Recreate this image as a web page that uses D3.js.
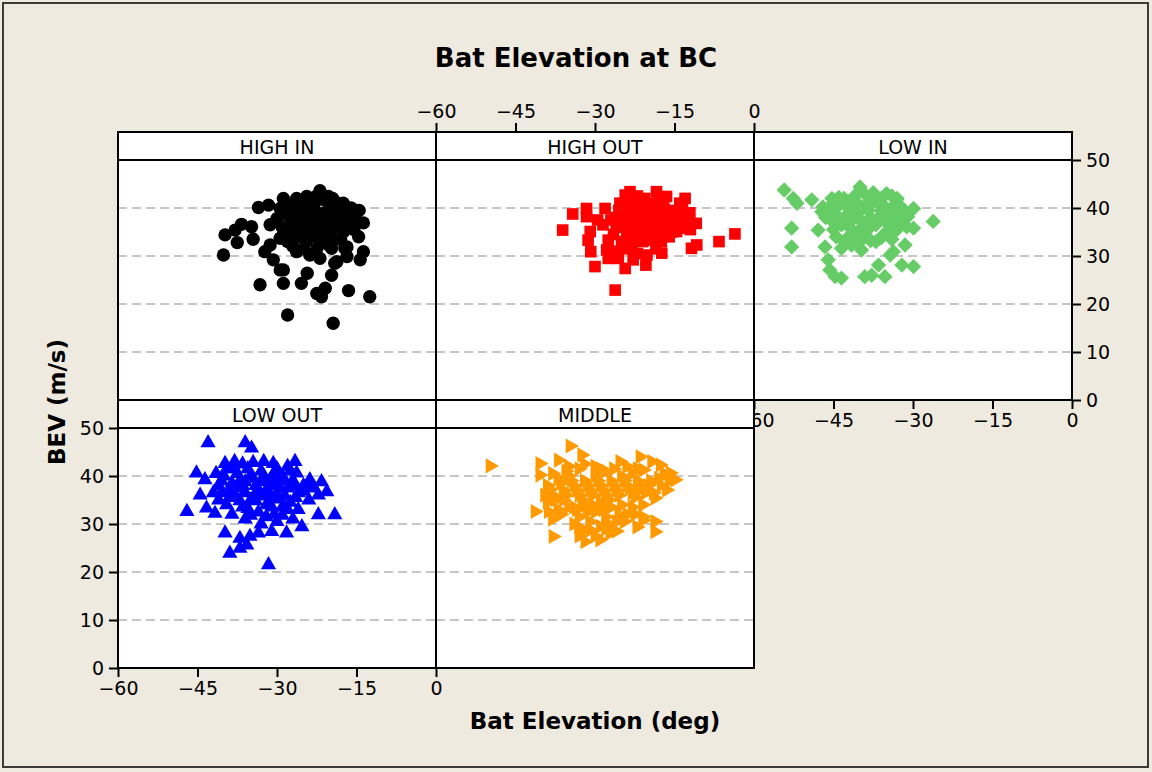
<!DOCTYPE html>
<html>
<head>
<meta charset="utf-8">
<script src="https://cdn.jsdelivr.net/npm/d3@7"></script>
<style>
  body { margin: 0; background: #eeeadf; }
  svg { display: block; }
  text { font-family: "DejaVu Sans", sans-serif; fill: #000; }
</style>
</head>
<body>
<div id="chart"></div>
<script>
"use strict";

const panels = ["HIGH IN", "HIGH OUT", "LOW IN", "LOW OUT", "MIDDLE"];
const xTicks = [-60, -45, -30, -15, 0];
const yTicks = [0, 10, 20, 30, 40, 50];
const gridValues = [10, 20, 30, 40];

// [Bat Elevation (deg), BEV (m/s)]
const highIn = [
  [-39.8, 34.4], [-40.1, 30.2], [-37.5, 32.8], [-36.7, 36.6], [-37.9, 35.4], [-34.8, 36.1],
  [-34.5, 33.5], [-33.5, 40.1], [-31.6, 40.6], [-31.3, 36.5], [-29.4, 39.9], [-28.8, 42.0],
  [-26.3, 42.0], [-24.4, 42.4], [-21.9, 43.6], [-20.3, 42.4], [-17.5, 41.0], [-15.3, 38.2],
  [-13.7, 36.9], [-14.6, 34.0], [-13.7, 30.9], [-14.3, 29.2], [-16.8, 29.9], [-16.8, 31.9],
  [-19.7, 31.6], [-19.1, 28.5], [-19.7, 26.0], [-20.9, 23.3], [-22.5, 22.2], [-21.6, 21.5],
  [-16.5, 22.8], [-12.5, 21.5], [-19.4, 16.0], [-28.0, 17.7], [-33.2, 24.0], [-28.8, 24.3],
  [-25.4, 24.3], [-24.3, 26.4], [-28.8, 27.1], [-29.4, 27.1], [-30.7, 29.2], [-32.3, 30.9],
  [-31.3, 32.3], [-29.4, 33.7], [-26.3, 30.9], [-23.8, 30.2], [-21.9, 29.5], [-18.7, 28.8],
  [-17.2, 31.6], [-28, 38.5], [-27, 37], [-26, 39.5], [-25, 36], [-24, 38], [-23, 40],
  [-22, 37], [-21, 39], [-20, 40.5], [-19, 38], [-18, 39.5], [-17, 37.5], [-16, 40],
  [-27.5, 35], [-26, 34], [-24.5, 33], [-23, 35], [-22, 33.5], [-21, 35.5], [-20, 34],
  [-19, 36], [-18, 33.5], [-29, 36], [-28.5, 34.5], [-25.5, 41], [-23.5, 41.5], [-21.5, 41.8],
  [-19.5, 42], [-18.5, 41], [-27, 32], [-25, 31.5], [-22.5, 31.5], [-20.5, 32.5], [-15.5, 35.5],
  [-16.5, 38.5], [-24, 36.8], [-22, 38.7], [-26.5, 38], [-28, 40.5], [-30, 37.8],
  [-27.5, 40], [-26.5, 36.5], [-25.5, 38.5], [-24.5, 40], [-23.5, 38.8], [-22.5, 36],
  [-21.5, 37.8], [-20.5, 36.8], [-19.5, 39.8], [-18, 37], [-17, 38.8], [-16, 36.8],
  [-25, 34.8], [-23.5, 34], [-21.5, 32.8], [-19.5, 33.5], [-17.5, 35], [-24, 39.5],
  [-20, 41.5], [-22.5, 42.5], [-26, 40.5], [-28, 33], [-15, 37.2], [-14.5, 39.5],
];

const highOut = [
  [-36.1, 35.4], [-34.2, 38.75], [-31.6, 39.9], [-31.6, 38.2], [-30.9, 35.1], [-31.3, 33.3],
  [-30.8, 30.9], [-30.0, 27.8], [-26.2, 22.9], [-27.5, 29.5], [-25.6, 29.5], [-24.3, 27.4],
  [-22.8, 29.2], [-20.4, 28.1], [-20.2, 30.2], [-17.4, 30.6], [-11.8, 31.6], [-10.8, 32.3],
  [-6.6, 33.0], [-3.6, 34.6], [-10.9, 36.8], [-12.1, 39.0], [-13.0, 42.0], [-14.0, 41.0],
  [-18.4, 43.4], [-23.4, 43.4], [-24.3, 42.7], [-28.1, 39.9], [-25.3, 41.0], [-20.6, 42.0],
  [-16.5, 42.4], [-27.5, 33.3], [-27.8, 31.25], [-19.0, 33.3], [-14.6, 35.1], [-13.0, 35.8],
  [-26, 38], [-25, 36], [-24, 39], [-23, 37.5], [-22, 40], [-21, 38], [-20, 36.5], [-19, 39.5],
  [-18, 37.5], [-17, 40], [-16, 38.5], [-15, 39.5], [-14, 37.5], [-26.5, 34.5], [-25, 33],
  [-24, 35], [-23, 32.5], [-22, 34.5], [-21, 33], [-20, 35], [-18, 34.5], [-17, 36], [-16, 34],
  [-15, 36.5], [-23.5, 41], [-21.5, 41.5], [-19.5, 41], [-17.5, 41.5], [-28.5, 36.5],
  [-29.5, 37.5], [-26, 31], [-24, 31.5], [-22, 30.5], [-18.5, 31.5], [-13, 38.5], [-12.5, 37],
  [-24.5, 37.8], [-20.5, 38.8], [-25.5, 39.5], [-24.5, 36.5], [-23, 39], [-22.5, 36],
  [-21.5, 39.5], [-20.5, 37], [-19.5, 38], [-18.5, 36], [-17.5, 38.8], [-16.5, 37],
  [-15.5, 35], [-14.5, 38.5], [-23.5, 34], [-21.5, 35.5], [-19.5, 34], [-17.5, 33],
  [-22, 42.5], [-20, 40.5], [-18, 42], [-26, 36.5], [-27, 37.5], [-25, 40.2], [-13.5, 40],
  [-12, 35.5],
];

const lowIn = [
  [-54.3, 43.75], [-52.6, 42.0], [-51.9, 41.0], [-49.1, 41.7], [-52.9, 35.8], [-52.9, 31.9],
  [-40.0, 44.4], [-47.9, 35.4], [-47.2, 39.2], [-45.3, 42.0], [-46.6, 31.9], [-46.0, 29.2],
  [-44.7, 25.7], [-43.5, 25.4], [-45.7, 27.1], [-43.5, 31.6], [-41.6, 32.3], [-39.7, 31.25],
  [-39.1, 25.7], [-37.8, 26.0], [-36.5, 28.1], [-35.3, 25.7], [-34.3, 30.2], [-33.7, 30.9],
  [-32.1, 28.1], [-29.9, 27.8], [-31.5, 32.3], [-29.9, 35.8], [-29.9, 39.9], [-26.2, 37.2],
  [-35.0, 43.0], [-37.2, 42.7], [-33.1, 41.7], [-31.8, 39.6], [-31.2, 36.1], [-42.2, 41.3],
  [-40.9, 34.7], [-38.7, 34.0], [-46, 39], [-45, 37], [-44, 40.5], [-43, 38], [-42, 36],
  [-41, 39.5], [-40, 37.5], [-39, 40.5], [-38, 38], [-37, 36.5], [-36, 39.5], [-35, 37],
  [-34, 40], [-33, 38], [-32, 37], [-44.5, 34], [-43, 33], [-41.5, 34.5], [-40, 33],
  [-38.5, 35.5], [-37, 33], [-35.5, 34.5], [-34, 33.5], [-33, 35.5], [-43, 42], [-41, 42.5],
  [-39, 42.8], [-36, 42], [-34, 42.5], [-45, 35.5], [-46.5, 38], [-42, 39.8], [-40.5, 41],
  [-38, 36.8], [-36.5, 41], [-32.5, 40.5], [-45.5, 40.5], [-44.5, 38.5], [-43.5, 36.5],
  [-42.5, 40.8], [-41.5, 37.5], [-40.5, 38.8], [-39.5, 36], [-38.5, 39.5], [-37.5, 41.5],
  [-36.5, 38], [-35.5, 40.5], [-34.5, 38.5], [-33.5, 36.5], [-32.5, 38.8], [-42, 34.2],
  [-40, 35.5], [-38, 33.2], [-36, 33.8], [-34.5, 35.5], [-44, 42.2], [-37.5, 43.2],
  [-33, 42], [-31, 38.2], [-47, 40.2],
];

const lowOut = [
  [-43.0, 46.9], [-36.0, 46.9], [-34.8, 45.8], [-45.2, 40.6], [-43.6, 39.2], [-44.5, 36.0],
  [-47.0, 32.6], [-43.3, 33.3], [-41.7, 32.2], [-39.8, 28.1], [-37.0, 27.0], [-38.9, 23.9],
  [-37.0, 24.9], [-35.7, 25.6], [-31.6, 21.5], [-33.5, 28.1], [-31.0, 28.4], [-28.2, 28.1],
  [-25.3, 29.4], [-22.2, 31.9], [-19.1, 31.9], [-20.6, 36.7], [-22.2, 36.0], [-23.8, 39.2],
  [-21.6, 38.8], [-26.6, 43.0], [-30.7, 42.6], [-39.8, 42.6], [-26.3, 40.6], [-35.1, 27.4],
  [-41, 38], [-40, 40], [-39, 37], [-38, 41.5], [-37, 39], [-36, 36.5], [-35, 40], [-34, 38],
  [-33, 41], [-32, 37], [-31, 39.5], [-30, 36], [-29, 40], [-28, 37.5], [-27, 39], [-26, 36.5],
  [-25, 38], [-41, 35], [-39.5, 34], [-38, 35.5], [-36.5, 33.5], [-35, 35], [-33.5, 32.5],
  [-32, 34], [-30.5, 32], [-29, 33.5], [-27.5, 34.5], [-26, 33], [-38, 43], [-36.5, 42.5],
  [-34.5, 42.8], [-32.5, 43], [-30, 41.5], [-28, 42], [-40.5, 36.5], [-37.5, 37.5], [-34, 36.5],
  [-31, 35.5], [-28.5, 35.8], [-24, 35], [-33, 30], [-30, 30.5], [-27, 31], [-36, 31],
  [-38.5, 32], [-40.5, 39], [-39.5, 41.5], [-38.5, 38.5], [-37.5, 40.5], [-36.5, 38],
  [-35.5, 41.5], [-34.5, 39.5], [-33.5, 37], [-32.5, 40], [-31.5, 38], [-30.5, 40.8],
  [-29.5, 37.5], [-28.5, 39], [-27.5, 41], [-26.5, 38], [-39, 35.5], [-37, 34.8],
  [-35.5, 33.2], [-34, 34.8], [-32.5, 35.8], [-31, 33.5], [-29.5, 35.2], [-28, 33],
  [-26.5, 35.5], [-25, 36.8], [-36, 38.8], [-33, 38.8], [-30, 38.5], [-38, 36.2], [-32, 31.5],
  [-29, 31.8], [-35, 31.8], [-24, 38.5], [-23, 37.5], [-42, 36.5], [-41.5, 40.5],
];

const middle = [
  [-49.8, 42.1], [-34.7, 46.25], [-32.5, 44.4], [-40.4, 42.6], [-36.9, 43.3], [-40.4, 40.2],
  [-41.3, 32.6], [-38.8, 32.6], [-37.9, 27.4], [-31.9, 26.3], [-29.1, 26.7], [-27.2, 28.1],
  [-33.1, 29.4], [-30.9, 28.75], [-22.1, 29.4], [-18.7, 28.4], [-18.7, 30.5], [-20.9, 30.8],
  [-25.3, 43.0], [-21.5, 44.0], [-19.3, 43.0], [-17.7, 42.3], [-15.8, 40.6], [-14.9, 39.2],
  [-16.5, 37.1], [-18.7, 35.4], [-22.1, 36.7], [-20.9, 41.25], [-39, 38], [-38, 36],
  [-37, 39.5], [-36, 37], [-35, 40], [-34, 38], [-33, 36], [-32, 39], [-31, 37], [-30, 40],
  [-29, 38], [-28, 36], [-27, 39], [-26, 37], [-25, 40], [-24, 38], [-23, 36.5], [-22, 39],
  [-39, 34.5], [-37, 33], [-36, 35], [-34, 33.5], [-33, 31.5], [-32, 34], [-30, 32.5],
  [-29, 34.5], [-28, 31.5], [-27, 33.5], [-26, 30.5], [-25, 34], [-24, 32], [-23, 33.5],
  [-34, 30], [-31, 30.5], [-29, 29.5], [-35, 42], [-33, 41.5], [-30, 42], [-28, 41], [-24, 42],
  [-22, 41.5], [-38, 40.5], [-20, 38], [-18, 39.5], [-17, 40.5], [-21, 34], [-26, 28.5],
  [-33, 27.5], [-38.5, 37.2], [-37.5, 35], [-36.5, 38.5], [-35.5, 36], [-34.5, 39],
  [-33.5, 37], [-32.5, 35], [-31.5, 38], [-30.5, 36], [-29.5, 39], [-28.5, 37], [-27.5, 35],
  [-26.5, 38], [-25.5, 36], [-24.5, 39], [-23.5, 37.5], [-22.5, 35.5], [-21.5, 38],
  [-20.5, 36.5], [-19.5, 39], [-36.5, 32], [-35, 33.5], [-33.5, 33], [-31.5, 32.5],
  [-30.5, 34], [-28.5, 33], [-27.5, 30], [-25.5, 32], [-24.5, 30.5], [-22.5, 32], [-21, 31.5],
  [-35.5, 41], [-32, 42.5], [-29, 41.5], [-26.5, 41.5], [-23, 40.5], [-19, 36.5], [-17.5, 38],
  [-16, 39], [-30, 27.5], [-32.5, 28.5], [-28, 29], [-39.5, 36], [-38, 31],
];

const seriesData = [highIn, highOut, lowIn, lowOut, middle];

window.addEventListener("load", function () {
  draw();
});

function draw() {
  const w = 1152;
  const h = 772;
  const colW = 318;
  const left = 118;
  const rowTops = [132, 400];
  const stripH = 28;
  const plotH = 240;

  const colors = ["#000000", "#ff0000", "#66cc66", "#0000ff", "#ff9900"];
  const symbols = [
    { type: d3.symbolCircle, size: 140, rot: 0 },
    { type: d3.symbolSquare, size: 135, rot: 0 },
    { type: d3.symbolSquare, size: 118, rot: 45 },
    { type: d3.symbolTriangle, size: 100, rot: 0 },
    { type: d3.symbolTriangle, size: 100, rot: 90 },
  ];

  const svg = d3
    .select("#chart")
    .append("svg")
    .attr("width", w)
    .attr("height", h);

  svg
    .append("rect")
    .attr("x", 3)
    .attr("y", 3)
    .attr("width", w - 7)
    .attr("height", h - 8)
    .attr("fill", "#eeeadf")
    .attr("stroke", "#3a3a3a")
    .attr("stroke-width", 2);

  // panel geometry: 3 per row
  const layout = panels.map((name, i) => {
    const col = i % 3;
    const row = Math.floor(i / 3);
    const x0 = left + col * colW;
    const top = rowTops[row];
    const plotTop = top + stripH;
    return {
      name: name,
      x0: x0,
      top: top,
      plotTop: plotTop,
      bottom: plotTop + plotH,
      x: d3.scaleLinear().domain([-60, 0]).range([x0, x0 + colW]),
      y: d3.scaleLinear().domain([0, 50]).range([plotTop + plotH, plotTop]),
    };
  });

  const tickFont = "19px";

  // bottom axis of LOW IN is drawn first, MIDDLE panel covers part of its "-60"
  drawAxis(svg, d3.axisBottom(layout[2].x), 0, layout[2].bottom, tickFont);

  layout.forEach((p, i) => {
    const g = svg.append("g");
    g.append("rect")
      .attr("x", p.x0)
      .attr("y", p.top)
      .attr("width", colW)
      .attr("height", stripH + plotH)
      .attr("fill", "#fff");

    g.selectAll("line.grid")
      .data(gridValues)
      .enter()
      .append("line")
      .attr("class", "grid")
      .attr("x1", p.x0)
      .attr("x2", p.x0 + colW)
      .attr("y1", (d) => p.y(d))
      .attr("y2", (d) => p.y(d))
      .attr("stroke", "#c6c6c6")
      .attr("stroke-width", 2)
      .attr("stroke-dasharray", "9,5");

    const sym = symbols[i];
    g.selectAll("path")
      .data(seriesData[i])
      .enter()
      .append("path")
      .attr("d", d3.symbol().type(sym.type).size(sym.size))
      .attr(
        "transform",
        (d) => `translate(${p.x(d[0])},${p.y(d[1])}) rotate(${sym.rot})`
      )
      .attr("fill", colors[i]);

    g.append("line")
      .attr("x1", p.x0)
      .attr("x2", p.x0 + colW)
      .attr("y1", p.plotTop)
      .attr("y2", p.plotTop)
      .attr("stroke", "#000")
      .attr("stroke-width", 2);

    g.append("rect")
      .attr("x", p.x0)
      .attr("y", p.top)
      .attr("width", colW)
      .attr("height", stripH + plotH)
      .attr("fill", "none")
      .attr("stroke", "#000")
      .attr("stroke-width", 2);

    g.append("text")
      .attr("x", p.x0 + colW / 2)
      .attr("y", p.top + 22)
      .attr("text-anchor", "middle")
      .attr("font-size", "19px")
      .text(p.name);
  });

  // outer axes like the Minitab panel layout
  drawAxis(svg, d3.axisTop(layout[1].x), 0, layout[1].top, tickFont);
  drawAxis(svg, d3.axisRight(layout[2].y), layout[2].x0 + colW, 0, tickFont);
  drawAxis(svg, d3.axisBottom(layout[3].x), 0, layout[3].bottom, tickFont);
  drawAxis(svg, d3.axisLeft(layout[3].y), layout[3].x0, 0, tickFont);

  svg
    .append("text")
    .attr("x", w / 2)
    .attr("y", 67)
    .attr("text-anchor", "middle")
    .attr("font-size", "26px")
    .attr("font-weight", "bold")
    .text("Bat Elevation at BC");

  svg
    .append("text")
    .attr("x", 595)
    .attr("y", 729)
    .attr("text-anchor", "middle")
    .attr("font-size", "23px")
    .attr("font-weight", "bold")
    .text("Bat Elevation (deg)");

  svg
    .append("text")
    .attr("transform", "translate(65,402) rotate(-90)")
    .attr("text-anchor", "middle")
    .attr("font-size", "23px")
    .attr("font-weight", "bold")
    .text("BEV (m/s)");
}

function drawAxis(svg, axis, tx, ty, fontSize) {
  const isX = axis.scale().domain()[0] === -60;
  const g = svg
    .append("g")
    .attr("transform", `translate(${tx},${ty})`)
    .call(
      axis
        .tickValues(isX ? xTicks : yTicks)
        .tickSize(9)
        .tickPadding(5)
        .tickSizeOuter(0)
    );
  g.select(".domain").remove();
  g.selectAll(".tick line").attr("stroke", "#000").attr("stroke-width", 2);
  g.selectAll(".tick text")
    .attr("font-size", fontSize)
    .attr("font-family", "DejaVu Sans, sans-serif")
    .attr("fill", "#000");
}
</script>
</body>
</html>
